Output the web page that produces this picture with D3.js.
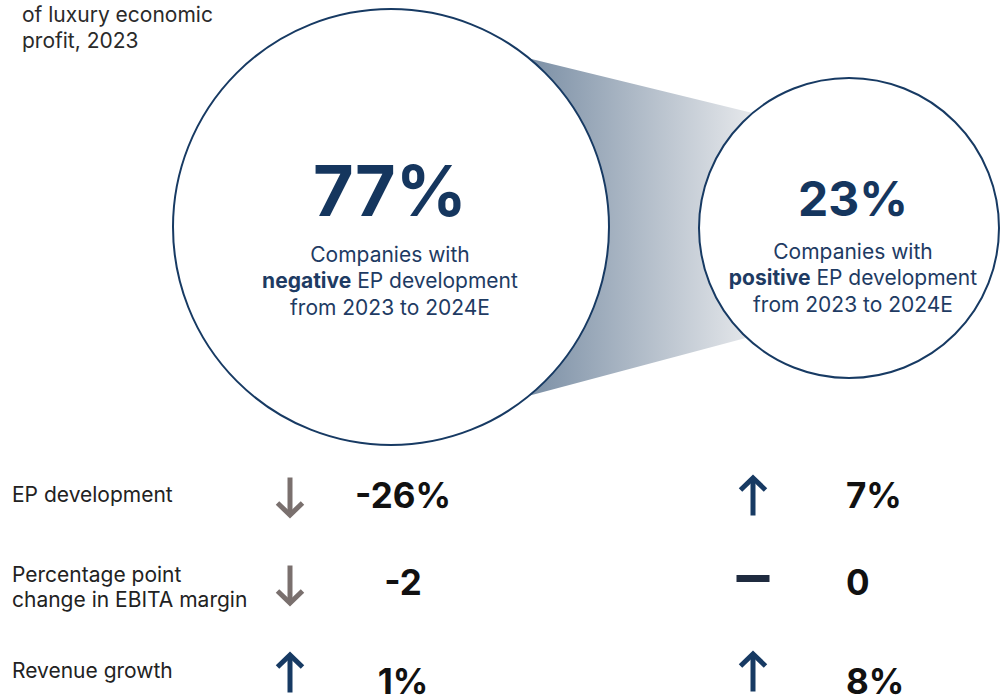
<!DOCTYPE html>
<html>
<head>
<meta charset="utf-8">
<script src="https://cdn.jsdelivr.net/npm/d3@7"></script>
<style>
  html, body { margin: 0; padding: 0; background: #fff; }
  svg { display: block; font-family: Inter, "Liberation Sans", Arial, sans-serif; }
</style>
</head>
<body>
<svg id="chart" width="1004" height="697"></svg>
<script>
// ---- data ----
const titleLines = ["of luxury economic", "profit, 2023"];
const groups = ["negative", "positive"];
const shares = [77, 23];
const groupText = [
  ["Companies with", ["negative", " EP development"], "from 2023 to 2024E"],
  ["Companies with", ["positive", " EP development"], "from 2023 to 2024E"]
];
const metrics = ["EP development", "Percentage point|change in EBITA margin", "Revenue growth"];
const negativeValues = [-26, -2, 1];
const positiveValues = [7, 0, 8];
const units = ["%", "", "%"];

// ---- layout ----
const svg = d3.select("#chart");
const navy = "#173a63";
const textNavy = "#1e3b63";
const grey = "#7a706e";

const circles = [
  { cx: 391, cy: 227, r: 218, big: 70, bigY: 216, subY: 262, tx: 390 },
  { cx: 849, cy: 228, r: 150, big: 48, bigY: 216, subY: 259, tx: 853 }
];

const defs = svg.append("defs");
const grad = defs.append("linearGradient").attr("id", "band")
  .attr("gradientUnits", "userSpaceOnUse")
  .attr("x1", 528).attr("x2", 755).attr("y1", 0).attr("y2", 0);
grad.append("stop").attr("offset", "0%").attr("stop-color", "#7b8fa5");
grad.append("stop").attr("offset", "100%").attr("stop-color", "#e7e9ec");

const pt = (c, deg) => [c.cx + c.r * Math.cos(deg * Math.PI / 180), c.cy + c.r * Math.sin(deg * Math.PI / 180)];
const bandPts = [pt(circles[0], -50.6), pt(circles[1], -130), pt(circles[1], 133), pt(circles[0], 50.7)];
svg.append("path")
  .attr("d", d3.line()(bandPts) + "Z")
  .attr("fill", "url(#band)");

const cg = svg.selectAll("g.circ").data(circles).join("g").attr("class", "circ");
cg.append("circle")
  .attr("cx", d => d.cx).attr("cy", d => d.cy).attr("r", d => d.r)
  .attr("fill", "#fff").attr("stroke", navy).attr("stroke-width", 2);

cg.append("text")
  .attr("x", d => d.tx).attr("y", d => d.bigY)
  .attr("text-anchor", "middle")
  .attr("font-size", d => d.big).attr("font-weight", 700)
  .attr("fill", "#15365e")
  .text((d, i) => shares[i] + "%");

cg.each(function (d, i) {
  const g = d3.select(this);
  const t = g.append("text").attr("text-anchor", "middle")
    .attr("font-size", 21).attr("fill", textNavy);
  groupText[i].forEach((ln, j) => {
    const ts = t.append("tspan").attr("x", d.tx).attr("y", d.subY + j * 26.3);
    if (Array.isArray(ln)) {
      ts.append("tspan").attr("font-weight", 700).text(ln[0]);
      ts.append("tspan").text(ln[1]);
    } else ts.text(ln);
  });
});

// title
svg.append("text").attr("font-size", 21).attr("fill", "#2a2a2a")
  .selectAll("tspan").data(titleLines).join("tspan")
  .attr("x", 22).attr("y", (d, i) => 22 + i * 26).text(d => d);

// table
const y = d3.scalePoint().domain(metrics).range([497, 673]);
const xArrow = d3.scalePoint().domain(groups).range([290, 753]);

const rows = svg.selectAll("g.row").data(metrics).join("g").attr("class", "row");
rows.append("text")
  .attr("font-size", 21).attr("fill", "#222")
  .each(function (d) {
    const parts = d.split("|");
    const t = d3.select(this);
    parts.forEach((p, j) => {
      t.append("tspan").attr("x", 12).attr("y", parts.length > 1 ? y(d) - 3 + j * 25 : y(d) + 5).text(p);
    });
  });

function drawIndicator(g, cx, cy, v) {
  if (v === 0) {
    g.append("rect").attr("x", cx - 16.5).attr("y", cy - 9).attr("width", 33).attr("height", 7)
      .attr("fill", "#1f2b3f");
    return;
  }
  const up = v > 0;
  const col = up ? navy : grey;
  const half = 19.5;
  const tip = up ? cy - half : cy + half;
  const tail = up ? cy + half : cy - half;
  const s = up ? 1 : -1;
  const p = d3.path();
  p.moveTo(cx, tail); p.lineTo(cx, tip + s * 3);
  g.append("path").attr("d", p.toString()).attr("stroke", col).attr("stroke-width", 5).attr("fill", "none");
  const h = d3.path();
  h.moveTo(cx - 12.5, tip + s * 13.5); h.lineTo(cx, tip + s * 1.5); h.lineTo(cx + 12.5, tip + s * 13.5);
  g.append("path").attr("d", h.toString()).attr("stroke", col).attr("stroke-width", 5)
    .attr("fill", "none").attr("stroke-linejoin", "miter").attr("stroke-miterlimit", 10);
}

const valueOffset = [11, 10, 21];
rows.each(function (d, i) {
  const g = d3.select(this);
  drawIndicator(g, xArrow("negative"), y(d), negativeValues[i]);
  drawIndicator(g, xArrow("positive"), y(d) - 1, positiveValues[i]);
  g.append("text").attr("x", 403).attr("y", y(d) + valueOffset[i])
    .attr("text-anchor", "middle").attr("font-size", 35).attr("font-weight", 700).attr("fill", "#111")
    .text(negativeValues[i] + units[i]);
  g.append("text").attr("x", 846).attr("y", y(d) + valueOffset[i])
    .attr("text-anchor", "start").attr("font-size", 35).attr("font-weight", 700).attr("fill", "#111")
    .text(positiveValues[i] + units[i]);
});
</script>
</body>
</html>
